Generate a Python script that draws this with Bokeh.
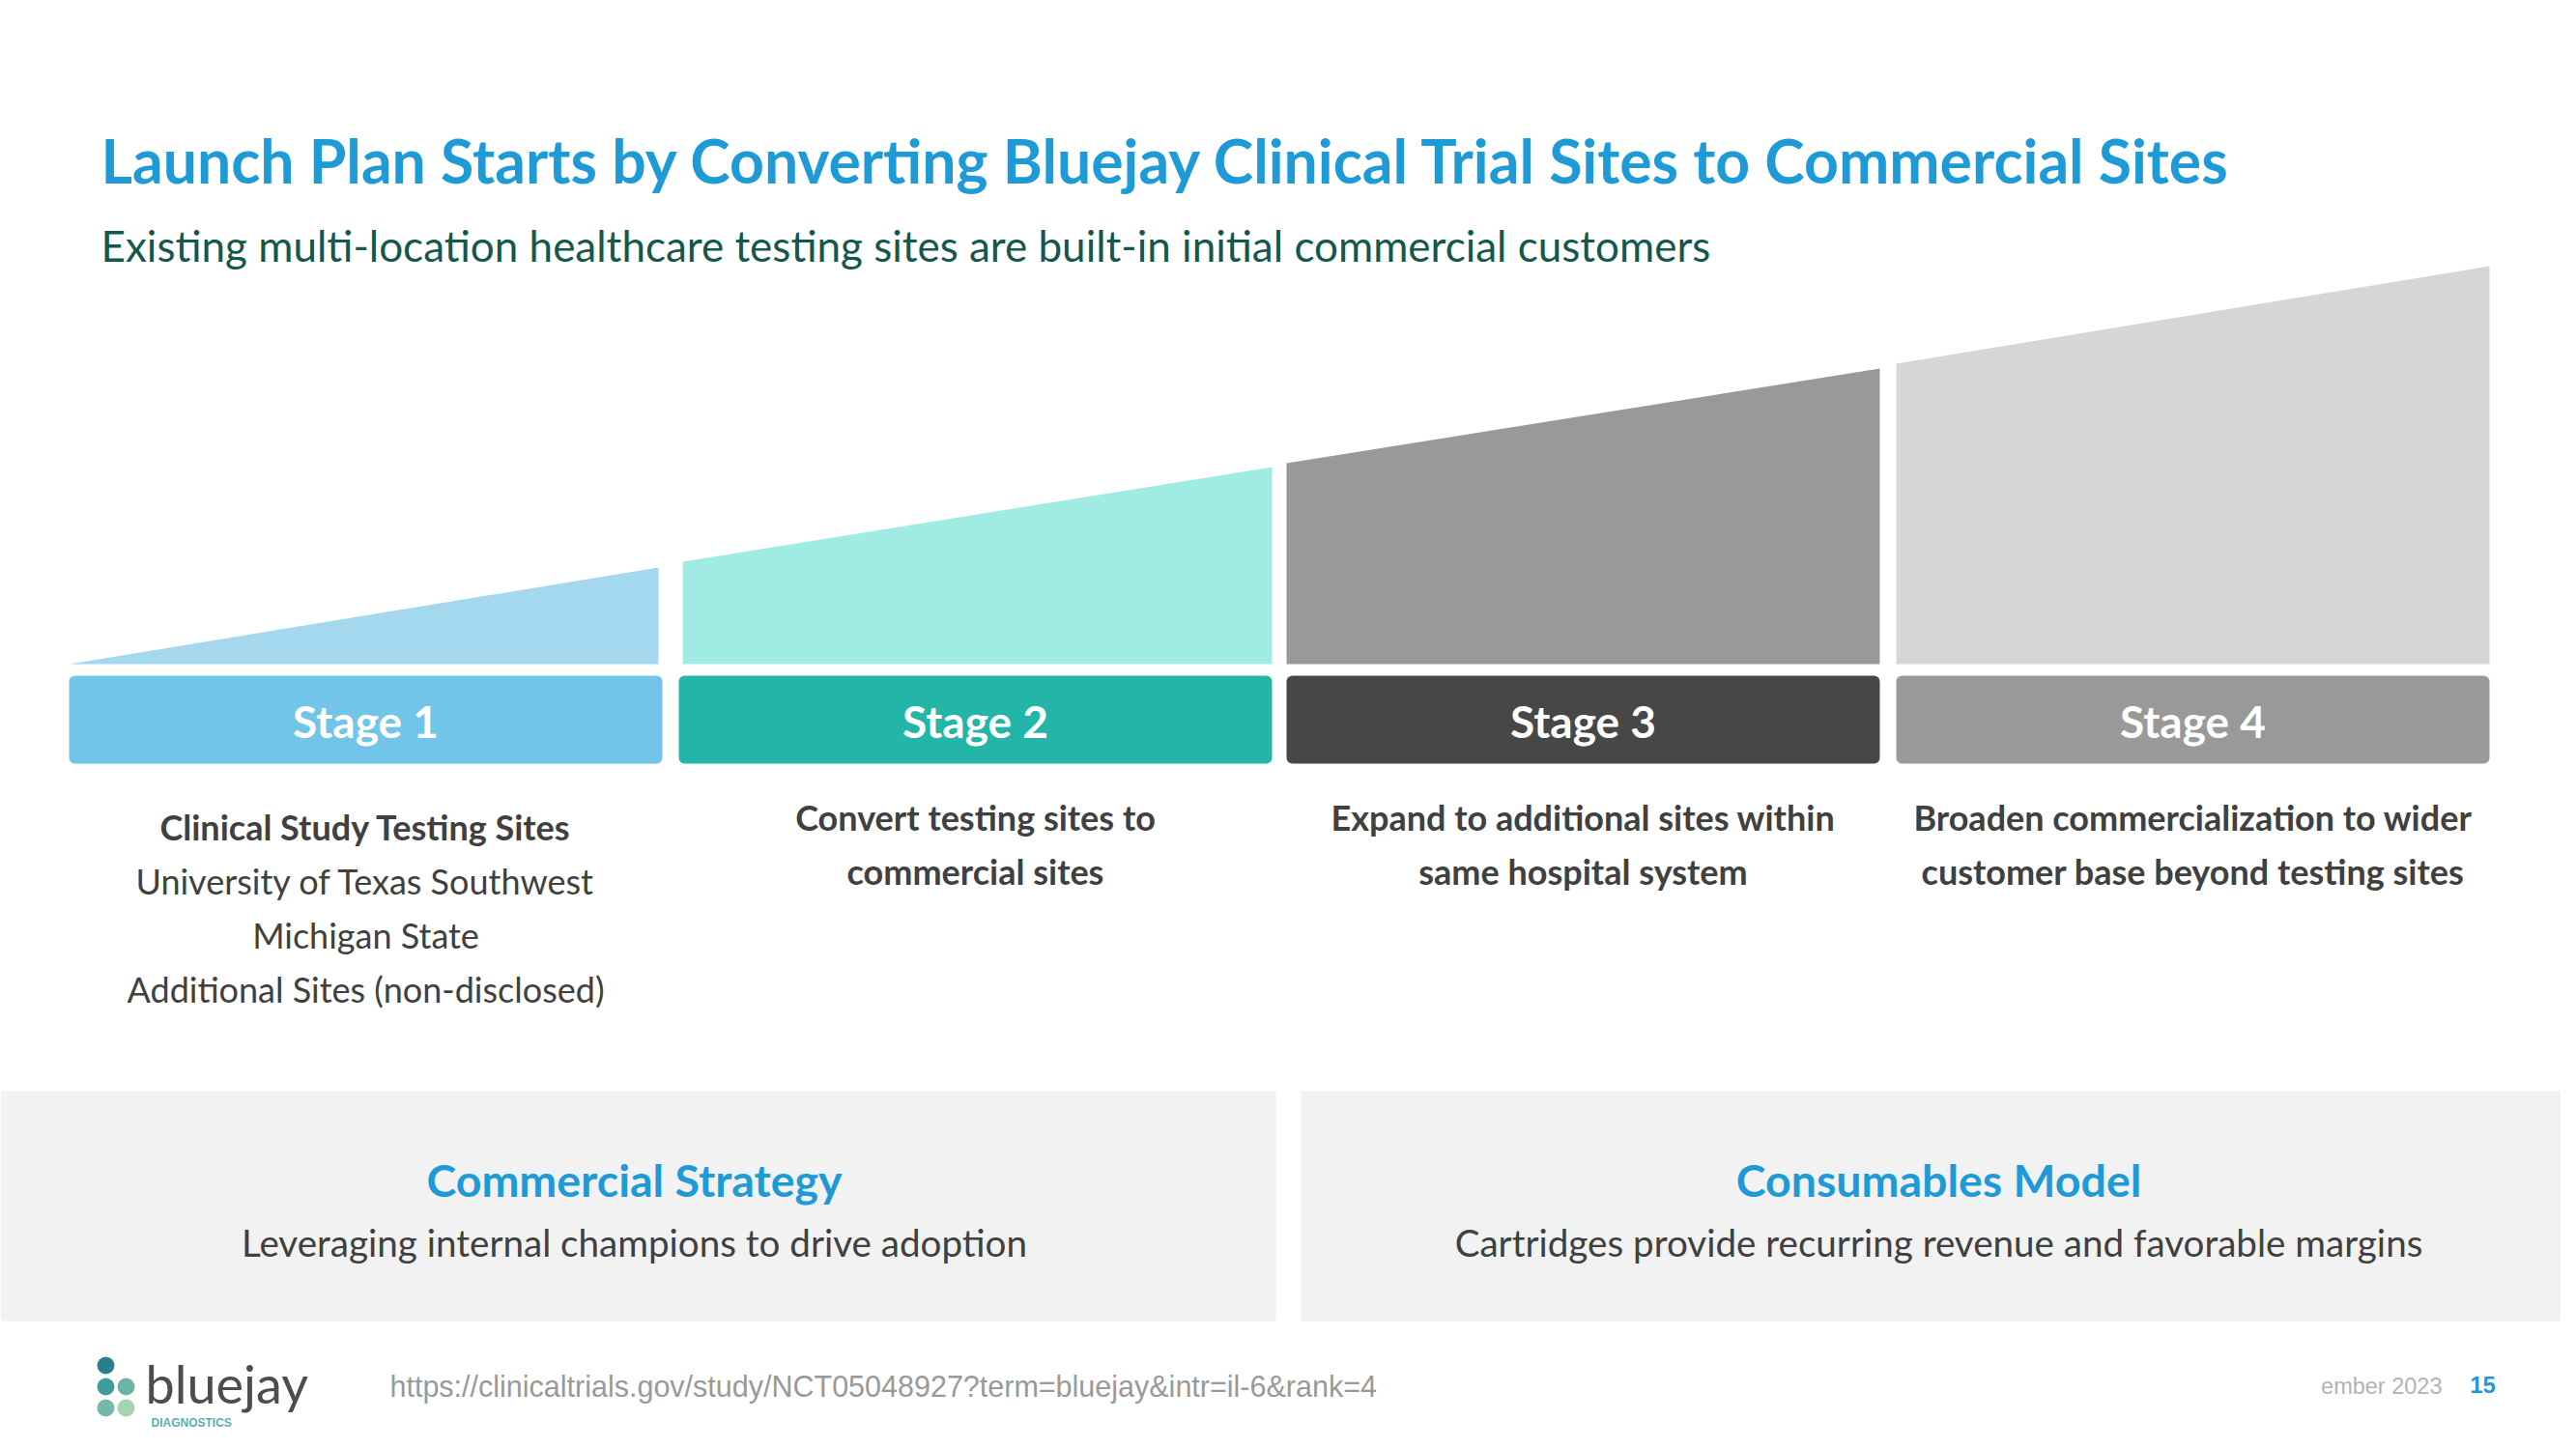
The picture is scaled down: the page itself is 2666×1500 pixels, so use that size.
from bokeh.plotting import figure
from bokeh.models import Range1d
from bokeh.core.properties import value
from bokeh.embed import file_html
from bokeh.resources import INLINE

# ---------------- data ----------------
title = "Launch Plan Starts by Converting Bluejay Clinical Trial Sites to Commercial Sites"
subtitle = "Existing multi-location healthcare testing sites are built-in initial commercial customers"
stages = ["Stage 1", "Stage 2", "Stage 3", "Stage 4"]
ramp_start = [0.0, 1.06, 2.08, 3.11]   # relative size at left edge of each stage
ramp_end = [1.00, 2.04, 3.06, 4.12]    # relative size at right edge of each stage
stage_heads = [
    ["Clinical Study Testing Sites"],
    ["Convert testing sites to", "commercial sites"],
    ["Expand to additional sites within", "same hospital system"],
    ["Broaden commercialization to wider", "customer base beyond testing sites"],
]
stage_details = [
    ["University of Texas Southwest", "Michigan State", "Additional Sites (non-disclosed)"],
    [], [], [],
]
panel_titles = ["Commercial Strategy", "Consumables Model"]
panel_texts = ["Leveraging internal champions to drive adoption",
               "Cartridges provide recurring revenue and favorable margins"]
source_url = "https://clinicaltrials.gov/study/NCT05048927?term=bluejay&intr=il-6&rank=4"
date_text = "ember 2023"
page_no = "15"

# ---------------- styles ----------------
ramp_colors = ["#a4d8ef", "#a0ece4", "#999999", "#d6d6d6"]
box_colors = ["#72c5e8", "#23b5a8", "#474747", "#999999"]
BLUE = "#1e9bd7"
TEAL_DARK = "#14584d"
TXT = "#404040"
FONT = "Lato"

W, H = 2650, 1484
p = figure(width=W, height=H, x_range=Range1d(0, W), y_range=Range1d(H, 0),
           output_backend="svg", toolbar_location=None, min_border=0,
           x_axis_location=None, y_axis_location=None)
p.grid.visible = False
p.outline_line_color = None
p.background_fill_color = "white"
p.border_fill_color = "white"

# layout
col_left = [71, 702, 1331, 1962]
col_w = 614
ramp_base = 687
unit = 100.0
box_top, box_bot = 699, 790

# ramps
xs, ys = [], []
for i in range(4):
    l = col_left[i] + (4 if i == 1 else 0)
    r = col_left[i] + col_w - (4 if i == 0 else 0)
    xs.append([l, r, r, l])
    ys.append([ramp_base, ramp_base, ramp_base - ramp_end[i] * unit, ramp_base - ramp_start[i] * unit])
p.patches(xs, ys, fill_color=ramp_colors, line_color=None)

# stage boxes
lefts = [c for c in col_left]
rights = [c + col_w for c in col_left]
p.quad(left=lefts, right=rights, top=[box_top] * 4, bottom=[box_bot] * 4,
       fill_color=box_colors, line_color=None, border_radius=6)
centers = [c + col_w / 2 for c in col_left]
p.text(x=centers, y=[(box_top + box_bot) / 2 + 1] * 4, text=stages, text_font=value(FONT),
       text_font_size="46px", text_font_style="bold", text_color="white",
       text_align="center", text_baseline="middle")

# stage descriptions
for i in range(4):
    y0 = 855 if stage_details[i] else 845
    lines_b = stage_heads[i]
    lines_r = stage_details[i]
    yb = [y0 + 56 * k for k in range(len(lines_b))]
    p.text(x=[centers[i]] * len(lines_b), y=yb, text=lines_b, text_font=value(FONT),
           text_font_size="36px", text_font_style="bold", text_color=TXT,
           text_align="center", text_baseline="middle")
    if lines_r:
        yr = [y0 + 56 * (k + len(lines_b)) for k in range(len(lines_r))]
        p.text(x=[centers[i]] * len(lines_r), y=yr, text=lines_r, text_font=value(FONT),
               text_font_size="36px", text_color=TXT,
               text_align="center", text_baseline="middle")

# title and subtitle
p.text(x=[104], y=[165], text=[title], text_font=value(FONT), text_font_size="62.5px",
       text_font_style="bold", text_color=BLUE, text_align="left", text_baseline="middle")
p.text(x=[104], y=[253], text=[subtitle], text_font=value(FONT), text_font_size="44px",
       text_color=TEAL_DARK, text_align="left", text_baseline="middle")

# bottom panels
p.quad(left=[0, 1346], right=[1320, 2666], top=[1129, 1129], bottom=[1367, 1367],
       fill_color="#f2f2f2", line_color=None)
p.text(x=[656, 2006], y=[1220, 1220], text=panel_titles, text_font=value(FONT),
       text_font_size="46.5px", text_font_style="bold", text_color=BLUE,
       text_align="center", text_baseline="middle")
p.text(x=[656, 2006], y=[1285, 1285], text=panel_texts, text_font=value(FONT),
       text_font_size="38.6px", text_color=TXT, text_align="center", text_baseline="middle")

# footer
p.text(x=[403], y=[1434], text=[source_url], text_font=value("Liberation Sans"),
       text_font_size="30.5px", text_color="#999999", text_align="left", text_baseline="middle")
p.text(x=[2527], y=[1434], text=[date_text], text_font=value("Liberation Sans"),
       text_font_size="23.5px", text_color="#b3b3b3", text_align="right", text_baseline="middle")
p.text(x=[2569], y=[1433], text=[page_no], text_font=value("Liberation Sans"),
       text_font_size="24px", text_font_style="bold", text_color=BLUE,
       text_align="center", text_baseline="middle")

# logo
p.scatter(x=[109, 109, 130, 109, 130], y=[1413, 1435, 1435, 1457, 1457], size=18,
          fill_color=["#2a7d8c", "#3f9b9c", "#6db3a6", "#72b9a9", "#a6d3b0"], line_color=None)
p.text(x=[150], y=[1432], text=["bluejay"], text_font=value(FONT), text_font_size="54px",
       text_color="#4d4d4d", text_align="left", text_baseline="middle")
p.text(x=[156], y=[1472], text=["DIAGNOSTICS"], text_font=value("Liberation Sans"),
       text_font_size="12px", text_font_style="bold", text_color="#5aafb0",
       text_align="left", text_baseline="middle")

open("out.html", "w").write(file_html(p, INLINE))
